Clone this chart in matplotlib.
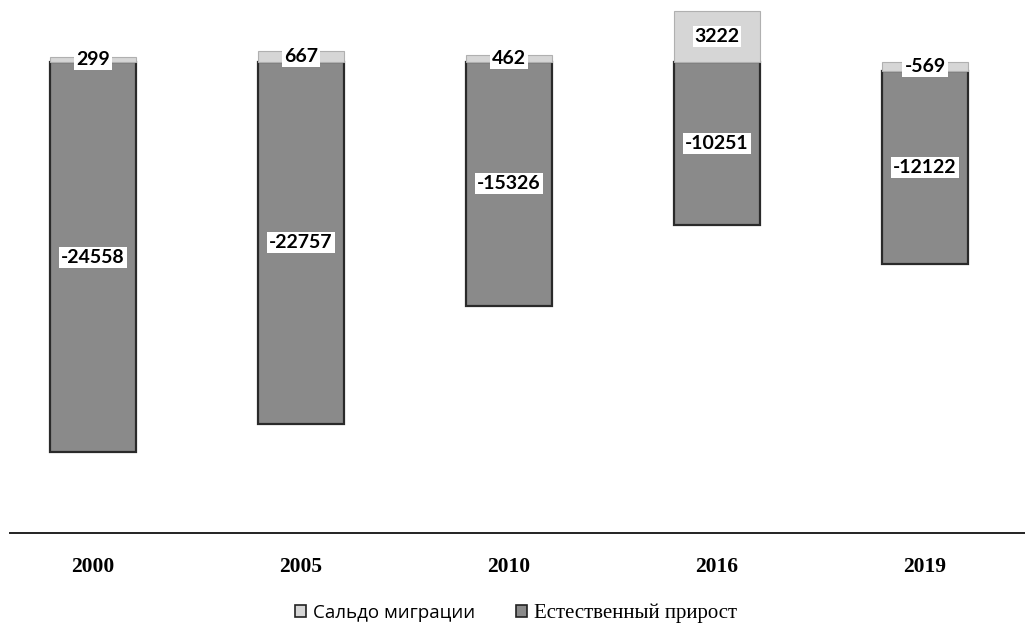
import matplotlib
matplotlib.use("Agg")
import matplotlib.pyplot as plt
import numpy as np

years = ["2000", "2005", "2010", "2016", "2019"]
migration = [299, 667, 462, 3222, -569]
natural = [-24558, -22757, -15326, -10251, -12122]
series_names = ["Сальдо миграции", "Естественный прирост"]

W, H = 1025, 624
fig = plt.figure(figsize=(W / 100, H / 100), dpi=100)

# axes placement in pixels
ax_left, ax_right, ax_top, ax_bottom = 10, 1025, 0, 533
ax = fig.add_axes([ax_left / W, 1 - ax_bottom / H, (ax_right - ax_left) / W, (ax_bottom - ax_top) / H])

x = np.arange(len(years))
c0, step = 93, 208
ax.set_xlim((ax_left - c0) / step, (ax_right - c0) / step)
zero_px, px_per_unit = 62, 0.0159
ax.set_ylim(-(ax_bottom - zero_px) / px_per_unit, zero_px / px_per_unit)

mig_color = "#d6d6d6"
nat_color = "#8a8a8a"
width = 0.41

mig = np.array(migration, dtype=float)
nat = np.array(natural, dtype=float)
# stacking: negative migration sits below zero, natural growth below it
nat_bottom = np.where(mig < 0, mig, 0)
b_nat = ax.bar(x, nat, width, bottom=nat_bottom, color=nat_color, edgecolor="#2a2a2a", linewidth=1.6, zorder=2)
b_mig = ax.bar(x, mig, width, bottom=0, color=mig_color, edgecolor="#b0b0b0", linewidth=0.8, zorder=3)

label_kw = dict(ha="center", va="center", fontsize=14, fontfamily="Lato", fontweight="bold", color="black",
                zorder=5, bbox=dict(boxstyle="square,pad=0.1", facecolor="white", edgecolor="none"))
for i in range(len(years)):
    ax.text(x[i], nat_bottom[i] + nat[i] / 2, f"{natural[i]}", **label_kw)
    ax.text(x[i], mig[i] / 2, f"{migration[i]}", **label_kw)

for s in ["top", "right", "left"]:
    ax.spines[s].set_visible(False)
ax.spines["bottom"].set_color("#222222")
ax.spines["bottom"].set_linewidth(1.4)
ax.set_yticks([])
ax.set_xticks(x)
ax.set_xticklabels(years, fontfamily="Liberation Serif", fontweight="bold", fontsize=15.5)
ax.tick_params(axis="x", length=0, pad=17)

leg = fig.legend([b_mig, b_nat], series_names, loc="center", bbox_to_anchor=(516 / W, 1 - 613 / H),
                 ncol=2, frameon=False, handlelength=0.6, handleheight=0.6, handletextpad=0.35,
                 columnspacing=2.2, prop={"family": "Open Sans", "size": 13.5})
for p in leg.get_patches():
    p.set_edgecolor("#222222")
    p.set_linewidth(1.2)
leg.get_texts()[1].set_fontfamily("Liberation Serif")
leg.get_texts()[1].set_fontsize(15)

fig.savefig("out.png", dpi=100)
